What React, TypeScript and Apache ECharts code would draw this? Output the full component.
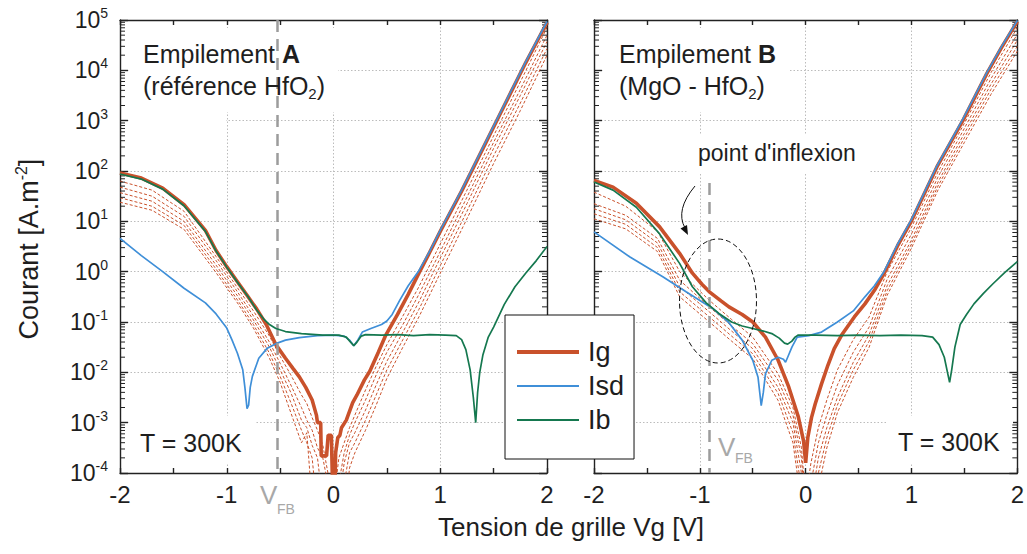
import React, { useEffect, useRef } from 'react';
import * as echarts from 'echarts';

// ---- Data: pairs [Vg (V), log10(current density in A.m^-2)] ----
// Panel A (reference HfO2)
const igA: [number, number][] = [
  [-2, 1.96], [-1.8, 1.86], [-1.6, 1.66], [-1.4, 1.33], [-1.2, 0.82], [-1.1, 0.42], [-1.0, 0.1],
  [-0.9, -0.2], [-0.8, -0.5], [-0.72, -0.74], [-0.63, -1.05], [-0.54, -1.45], [-0.45, -1.72],
  [-0.38, -1.92], [-0.32, -2.09], [-0.26, -2.3], [-0.2, -2.55], [-0.16, -2.85], [-0.15, -3.0],
  [-0.12, -3.0], [-0.115, -3.66], [-0.065, -3.66], [-0.05, -3.25], [-0.02, -3.25], [-0.005, -4.6],
  [0.01, -4.6], [0.02, -3.6], [0.04, -3.3], [0.06, -3.25], [0.075, -3.1], [0.12, -2.95], [0.18, -2.6],
  [0.22, -2.45], [0.29, -2.15], [0.34, -1.98], [0.42, -1.6], [0.49, -1.26], [0.6, -0.85], [0.7, -0.45],
  [0.8, -0.03], [0.9, 0.38], [1.0, 0.8], [1.2, 1.6], [1.4, 2.45], [1.6, 3.3], [1.8, 4.15], [2.0, 4.95],
];
const isdA: [number, number][] = [
  [-2, 0.66], [-1.8, 0.32], [-1.6, 0.0], [-1.4, -0.33], [-1.2, -0.62], [-1.1, -0.84], [-1.0, -1.12],
  [-0.95, -1.36], [-0.9, -1.62], [-0.85, -1.95], [-0.83, -2.3], [-0.81, -2.72], [-0.795, -2.65],
  [-0.78, -2.3], [-0.76, -2.08], [-0.7, -1.72], [-0.62, -1.52], [-0.54, -1.43], [-0.45, -1.36],
  [-0.32, -1.31], [-0.15, -1.27], [0.0, -1.26], [0.1, -1.28], [0.15, -1.36], [0.19, -1.47], [0.23, -1.35],
  [0.27, -1.2], [0.35, -1.13], [0.45, -1.05], [0.5, -0.98], [0.55, -0.85], [0.62, -0.57], [0.7, -0.28],
  [0.8, 0.02], [0.9, 0.4], [1.0, 0.82], [1.2, 1.62], [1.4, 2.47], [1.6, 3.32], [1.8, 4.17], [2.0, 4.97],
];
const ibA: [number, number][] = [
  [-2, 1.94], [-1.8, 1.84], [-1.6, 1.64], [-1.4, 1.31], [-1.2, 0.8], [-1.1, 0.41], [-1.0, 0.09],
  [-0.9, -0.21], [-0.8, -0.5], [-0.72, -0.76], [-0.65, -0.95], [-0.6, -1.05], [-0.54, -1.13],
  [-0.45, -1.19], [-0.3, -1.23], [-0.1, -1.26], [0.05, -1.26], [0.12, -1.3], [0.16, -1.4], [0.19, -1.47],
  [0.22, -1.4], [0.26, -1.28], [0.3, -1.25], [0.45, -1.26], [0.6, -1.25], [0.75, -1.27], [0.9, -1.25],
  [1.05, -1.26], [1.15, -1.27], [1.2, -1.35], [1.24, -1.55], [1.28, -1.95], [1.31, -2.5], [1.332, -3.0],
  [1.35, -2.4], [1.37, -2.0], [1.4, -1.65], [1.45, -1.3], [1.5, -1.1], [1.6, -0.65], [1.7, -0.3],
  [1.8, -0.03], [1.9, 0.22], [2.0, 0.5],
];
// other Ig measurements (dashed), panel A
const igAvarX = [-2, -1.7, -1.4, -1.1, -0.9, -0.75, -0.6, -0.5, -0.4, -0.3, -0.25, -0.2, -0.15, -0.1, 0.0, 0.05, 0.1, 0.15, 0.2, 0.3, 0.4, 0.5, 0.65, 0.8, 1.0, 1.25, 1.5, 1.75, 2.0];
const igAvar1 = [1.80, 1.62, 1.20, 0.30, -0.32, -0.78, -1.28, -1.68, -2.05, -2.45, -2.62, -2.9, -3.15, -3.45, -4.6, -3.7, -3.4, -3.1, -2.85, -2.35, -1.88, -1.45, -0.88, -0.3, 0.55, 1.62, 2.7, 3.77, 4.85];
const igAvar2 = [1.68, 1.50, 1.10, 0.22, -0.40, -0.88, -1.40, -1.82, -2.25, -2.7, -2.95, -3.15, -3.5, -3.7, -4.8, -4.2, -3.6, -3.25, -3.0, -2.55, -2.05, -1.6, -1.05, -0.45, 0.4, 1.48, 2.57, 3.62, 4.7];
const igAvar3 = [1.57, 1.40, 1.00, 0.13, -0.48, -0.96, -1.50, -1.95, -2.4, -2.95, -3.1, -3.45, -3.7, -4.6, -5, -4.6, -3.8, -3.4, -3.2, -2.75, -2.25, -1.78, -1.2, -0.6, 0.27, 1.35, 2.45, 3.5, 4.57];
const igAvar4 = [1.47, 1.30, 0.92, 0.05, -0.56, -1.05, -1.62, -2.08, -2.6, -3.15, -3.4, -3.7, -4.8, -5, -5, -5, -4.2, -3.6, -3.4, -2.95, -2.45, -1.95, -1.35, -0.75, 0.12, 1.2, 2.3, 3.35, 4.43];
const igAvar5 = [1.38, 1.22, 0.84, -0.02, -0.62, -1.12, -1.72, -2.2, -2.8, -3.4, -3.2, -4.6, -5, -5, -5, -5, -5, -3.9, -3.6, -3.15, -2.65, -2.12, -1.5, -0.9, -0.03, 1.05, 2.15, 3.2, 4.3];

// Panel B (MgO - HfO2)
const igB: [number, number][] = [
  [-2, 1.81], [-1.82, 1.68], [-1.6, 1.36], [-1.38, 0.89], [-1.19, 0.36], [-1.07, -0.03], [-0.98, -0.25],
  [-0.91, -0.4], [-0.8, -0.58], [-0.725, -0.7], [-0.6, -0.85], [-0.5, -1.0], [-0.38, -1.3], [-0.26, -1.76],
  [-0.16, -2.29], [-0.07, -2.88], [-0.02, -3.36], [0.0, -3.8], [0.02, -3.3], [0.055, -2.9], [0.09, -2.63],
  [0.15, -2.23], [0.21, -1.86], [0.27, -1.53], [0.34, -1.26], [0.46, -0.9], [0.56, -0.64], [0.65, -0.37],
  [0.74, -0.04], [0.87, 0.52], [1.0, 1.01], [1.24, 2.08], [1.49, 3.02], [1.71, 3.93], [1.85, 4.45], [2.0, 4.97],
];
const isdB: [number, number][] = [
  [-2, 0.79], [-1.66, 0.29], [-1.35, -0.1], [-1.13, -0.4], [-0.88, -0.73], [-0.73, -1.0], [-0.6, -1.36],
  [-0.5, -1.76], [-0.45, -2.1], [-0.42, -2.66], [-0.4, -2.4], [-0.38, -2.03], [-0.32, -1.76], [-0.26, -1.7],
  [-0.21, -1.74], [-0.19, -1.8], [-0.16, -1.65], [-0.13, -1.5], [-0.08, -1.3], [0.03, -1.27], [0.15, -1.2],
  [0.3, -1.0], [0.45, -0.78], [0.56, -0.5], [0.65, -0.28], [0.74, 0.0], [0.87, 0.55], [1.0, 1.04],
  [1.24, 2.1], [1.49, 3.05], [1.71, 3.95], [1.85, 4.47], [2.0, 4.99],
];
const ibB: [number, number][] = [
  [-2, 1.78], [-1.82, 1.62], [-1.6, 1.28], [-1.38, 0.75], [-1.19, 0.16], [-1.07, -0.3], [-0.94, -0.62],
  [-0.82, -0.83], [-0.7, -1.0], [-0.6, -1.08], [-0.5, -1.13], [-0.4, -1.18], [-0.32, -1.23], [-0.25, -1.32],
  [-0.2, -1.42], [-0.17, -1.44], [-0.13, -1.38], [-0.1, -1.3], [-0.07, -1.26], [0.1, -1.26], [0.3, -1.27],
  [0.5, -1.26], [0.7, -1.27], [0.9, -1.26], [1.1, -1.27], [1.2, -1.3], [1.26, -1.45], [1.31, -1.7],
  [1.34, -2.0], [1.36, -2.2], [1.38, -1.95], [1.41, -1.5], [1.46, -1.05], [1.52, -0.85], [1.59, -0.64],
  [1.68, -0.43], [1.77, -0.24], [1.88, -0.02], [2.0, 0.2],
];
const igBvarX = [-2, -1.7, -1.4, -1.19, -0.91, -0.7, -0.5, -0.26, -0.12, -0.04, 0.0, 0.05, 0.12, 0.2, 0.3, 0.45, 0.6, 0.77, 1.0, 1.25, 1.5, 1.75, 2.0];
const igBvar1 = [1.58, 1.3, 0.8, 0.0, -0.57, -0.95, -1.3, -2.03, -2.7, -3.5, -4.5, -3.8, -3.1, -2.55, -1.95, -1.35, -0.9, 0.0, 0.88, 1.98, 2.95, 3.95, 4.85];
const igBvar2 = [1.35, 1.12, 0.66, -0.17, -0.7, -1.08, -1.43, -2.16, -2.85, -3.7, -4.8, -4.2, -3.4, -2.85, -2.25, -1.6, -1.1, -0.15, 0.75, 1.88, 2.85, 3.83, 4.72];
const igBvar3 = [1.25, 1.03, 0.57, -0.3, -0.8, -1.18, -1.53, -2.3, -3.0, -4.0, -5, -4.6, -3.7, -3.1, -2.5, -1.8, -1.25, -0.28, 0.63, 1.78, 2.75, 3.72, 4.6];
const igBvar4 = [1.15, 0.94, 0.48, -0.4, -0.9, -1.28, -1.63, -2.42, -3.2, -4.3, -5, -5, -4.0, -3.3, -2.65, -1.95, -1.38, -0.38, 0.55, 1.7, 2.66, 3.62, 4.48];
const igBvar5 = [1.05, 0.85, 0.4, -0.5, -1.0, -1.38, -1.73, -2.56, -3.4, -4.6, -5, -5, -4.3, -3.5, -2.8, -2.1, -1.5, -0.47, 0.47, 1.62, 2.57, 3.52, 4.38];

// flat-band voltages and tick labels
const VFB_A = -0.53;
const VFB_B = -0.91;
const xTickLabels = ['-2', '-1', '0', '1', '2'];
const yExponents = [-4, -3, -2, -1, 0, 1, 2, 3, 4, 5];

const C_IG = '#C9512B';
const C_ISD = '#3F8FD8';
const C_IB = '#15784F';
const C_VFB = '#9c9c9c';
const FONT = '"Liberation Sans", Arial, Helvetica, sans-serif';
const TXT = '#1e1e1e';

const toVal = (pts: [number, number][]) => pts.map(([x, l]) => [x, Math.pow(10, l)]);
const zipVal = (xs: number[], ls: number[]) => xs.map((x, i) => [x, Math.pow(10, ls[i])]);

export default function App() {
  const ref = useRef<HTMLDivElement>(null);
  useEffect(() => {
    if (!ref.current) return;
    const chart = echarts.init(ref.current, undefined, { renderer: 'svg' });

    const axisLine = { color: '#222', width: 1.4 };
    const gridLine = { color: '#bcbcbc', width: 1, type: [1.5, 2] as any };

    const xAx = (gi: number, pos: 'top' | 'bottom', labels: boolean) => ({
      gridIndex: gi, type: 'value', min: -2, max: 2, interval: 1, position: pos,
      axisLine: { show: true, onZero: false, lineStyle: axisLine },
      axisTick: { show: true, inside: true, length: 5, lineStyle: axisLine },
      minorTick: { show: true, splitNumber: 2, length: 5, lineStyle: axisLine },
      axisLabel: {
        show: labels, fontSize: 24, color: TXT, fontFamily: FONT, margin: 9,
        formatter: (v: number) => xTickLabels[Math.round(v) + 2] ?? '',
      },
      splitLine: { show: pos === 'bottom', lineStyle: gridLine },
    });
    const yAx = (gi: number, pos: 'left' | 'right', labels: boolean) => ({
      gridIndex: gi, type: 'log', logBase: 10, min: 1e-4, max: 1e5, splitNumber: 9, position: pos,
      axisLine: { show: true, onZero: false, lineStyle: axisLine },
      axisTick: { show: true, inside: true, length: 8, lineStyle: axisLine },
      axisLabel: {
        show: labels, margin: 12, align: 'right',
        formatter: (v: number) => {
          const e = Math.round(Math.log10(v));
          return yExponents.includes(e) ? `{b|10}{s|${e}}` : '';
        },
        rich: {
          b: { fontSize: 23, fontFamily: FONT, color: TXT, lineHeight: 28 },
          s: { fontSize: 14, fontFamily: FONT, color: TXT, lineHeight: 14, verticalAlign: 'top' },
        },
      },
      splitLine: { show: pos === 'left', lineStyle: gridLine },
    });

    const minorVals: number[] = [];
    for (let k = -4; k < 5; k++) for (let m = 2; m <= 9; m++) minorVals.push(m * Math.pow(10, k));

    const minorTickSeries = (ai: number) => ({
      type: 'custom', xAxisIndex: ai, yAxisIndex: ai, silent: true, z: 3,
      data: minorVals.map((v) => [-2, v]),
      renderItem: (_p: any, api: any) => {
        const v = api.value(1);
        const a = api.coord([-2, v]);
        const b = api.coord([2, v]);
        const st = { stroke: '#222', lineWidth: 1 };
        return {
          type: 'group', children: [
            { type: 'line', shape: { x1: a[0], y1: a[1], x2: a[0] + 5, y2: a[1] }, style: st },
            { type: 'line', shape: { x1: b[0], y1: b[1], x2: b[0] - 5, y2: b[1] }, style: st },
          ],
        };
      },
    });

    const line = (name: string, data: any[], ai: number, color: string, width: number, dashed = false, z = 2) => ({
      type: 'line', name, xAxisIndex: ai, yAxisIndex: ai, data, symbol: 'none', showSymbol: false,
      lineStyle: { color, width, type: dashed ? [3, 2] : 'solid' }, itemStyle: { color },
      z, silent: true, clip: true,
    });

    const vfbLine = (ai: number, x: number, topVal: number) => ({
      type: 'line', name: 'VFB', xAxisIndex: ai, yAxisIndex: ai, data: [], silent: true,
      markLine: {
        silent: true, symbol: 'none', label: { show: false },
        lineStyle: { color: C_VFB, width: 2.5, type: [12, 7] },
        data: [[{ coord: [x, topVal] }, { coord: [x, 1e-4] }]],
      },
    });

    const series: any[] = [
      vfbLine(0, VFB_A, 1e5),
      vfbLine(2, VFB_B, Math.pow(10, 1.76)),
      ...[igAvar1, igAvar2, igAvar3, igAvar4, igAvar5].map((l, i) => line('Ig A ' + (i + 2), zipVal(igAvarX, l), 0, C_IG, 1, true, 2)),
      ...[igBvar1, igBvar2, igBvar3, igBvar4, igBvar5].map((l, i) => line('Ig B ' + (i + 2), zipVal(igBvarX, l), 2, C_IG, 1, true, 2)),
      line('Ig', toVal(igA), 0, C_IG, 3.6, false, 3),
      line('Isd', toVal(isdA), 0, C_ISD, 1.7, false, 4),
      line('Ib', toVal(ibA), 0, C_IB, 1.7, false, 5),
      line('Ig', toVal(igB), 2, C_IG, 3.6, false, 3),
      line('Isd', toVal(isdB), 2, C_ISD, 1.7, false, 4),
      line('Ib', toVal(ibB), 2, C_IB, 1.7, false, 5),
      minorTickSeries(0),
      minorTickSeries(2),
    ];

    const white = (x: number, y: number, w: number, h: number) => ({
      type: 'rect', z: 1, silent: true, shape: { x, y, width: w, height: h }, style: { fill: '#fff' },
    });
    const txt = (x: number, y: number, text: string, size: number, extra: any = {}) => ({
      type: 'text', x, y, z: 100, silent: true,
      style: { text, fontSize: size, fontFamily: FONT, fill: TXT, verticalAlign: 'middle', ...extra },
    });
    const subRich = {
      n: { fontSize: 25, fontFamily: FONT, fill: TXT, lineHeight: 30 },
      b: { fontSize: 25, fontFamily: FONT, fill: TXT, lineHeight: 30, fontWeight: 'bold' },
      u: { fontSize: 15, fontFamily: FONT, fill: TXT, lineHeight: 15, verticalAlign: 'bottom' },
    };

    const graphic: any[] = [
      white(129, 28, 209, 84), white(129, 110, 97, 16),
      white(603, 28, 187, 84),
      white(687, 134, 183, 40),
      white(129, 416, 126, 48),
      white(887, 416, 126, 48),
      txt(143, 54, '{n|Empilement }{b|A}', 25, { rich: subRich }),
      txt(143, 86, '{n|(référence HfO}{u|2}{n|)}', 25, { rich: subRich }),
      txt(619, 54, '{n|Empilement }{b|B}', 25, { rich: subRich }),
      txt(619, 86, '{n|(MgO - HfO}{u|2}{n|)}', 25, { rich: subRich }),
      txt(698, 153, "point d'inflexion", 23),
      txt(140, 443, 'T = 300K', 25),
      txt(898, 442, 'T = 300K', 25),
      txt(260, 495, 'V', 26, { fill: '#a8a8a8' }),
      txt(277, 509, 'FB', 14, { fill: '#a8a8a8' }),
      txt(718, 447, 'V', 26, { fill: '#a8a8a8' }),
      txt(735, 458, 'FB', 14, { fill: '#a8a8a8' }),
      txt(571, 527, 'Tension de grille Vg [V]', 26, { align: 'center' }),
      {
        type: 'text', x: 29, y: 249, rotation: Math.PI / 2, z: 100, silent: true,
        style: {
          text: '{n|Courant [A.m}{s|-2}{n|]}', align: 'center', verticalAlign: 'middle',
          rich: {
            n: { fontSize: 27, fontFamily: FONT, fill: TXT, lineHeight: 32 },
            s: { fontSize: 16, fontFamily: FONT, fill: TXT, lineHeight: 16, verticalAlign: 'top' },
          },
        },
      },
      {
        type: 'ellipse', z: 100, silent: true, shape: { cx: 718, cy: 301, rx: 38.5, ry: 62 },
        style: { fill: 'none', stroke: '#111', lineWidth: 1, lineDash: [5, 3] },
      },
      {
        type: 'bezierCurve', z: 100, silent: true,
        shape: { x1: 695, y1: 186, cpx1: 675, cpy1: 210, x2: 685, y2: 228 },
        style: { fill: 'none', stroke: '#111', lineWidth: 1 },
      },
      {
        type: 'polygon', z: 100, silent: true,
        shape: { points: [[688, 235], [680.5, 228.5], [687, 225]] },
        style: { fill: '#111' },
      },
    ];

    chart.setOption({
      animation: false,
      backgroundColor: '#fff',
      grid: [
        { left: 120, top: 20, width: 427, height: 453 },
        { left: 594, top: 20, width: 427, height: 453 },
      ],
      xAxis: [xAx(0, 'bottom', true), xAx(0, 'top', false), xAx(1, 'bottom', true), xAx(1, 'top', false)],
      yAxis: [yAx(0, 'left', true), yAx(0, 'right', false), yAx(1, 'left', false), yAx(1, 'right', false)],
      legend: {
        data: [
          { name: 'Ig', lineStyle: { width: 4 } },
          { name: 'Isd', lineStyle: { width: 2 } },
          { name: 'Ib', lineStyle: { width: 2 } },
        ],
        orient: 'vertical', left: 505, top: 315, selectedMode: false,
        itemWidth: 62, itemHeight: 14, itemGap: 0,
        itemStyle: { opacity: 0 },
        padding: [20, 10, 22, 10],
        backgroundColor: '#fff', borderColor: '#111', borderWidth: 1, borderRadius: 0,
        textStyle: { fontSize: 27, fontFamily: FONT, color: TXT, lineHeight: 34, padding: [0, 0, 0, 4] },
        z: 50,
      },
      graphic,
      series,
    });
    return () => chart.dispose();
  }, []);
  return <div ref={ref} style={{ position: 'fixed', left: 0, top: 0, width: 1027, height: 554 }} />;
}
